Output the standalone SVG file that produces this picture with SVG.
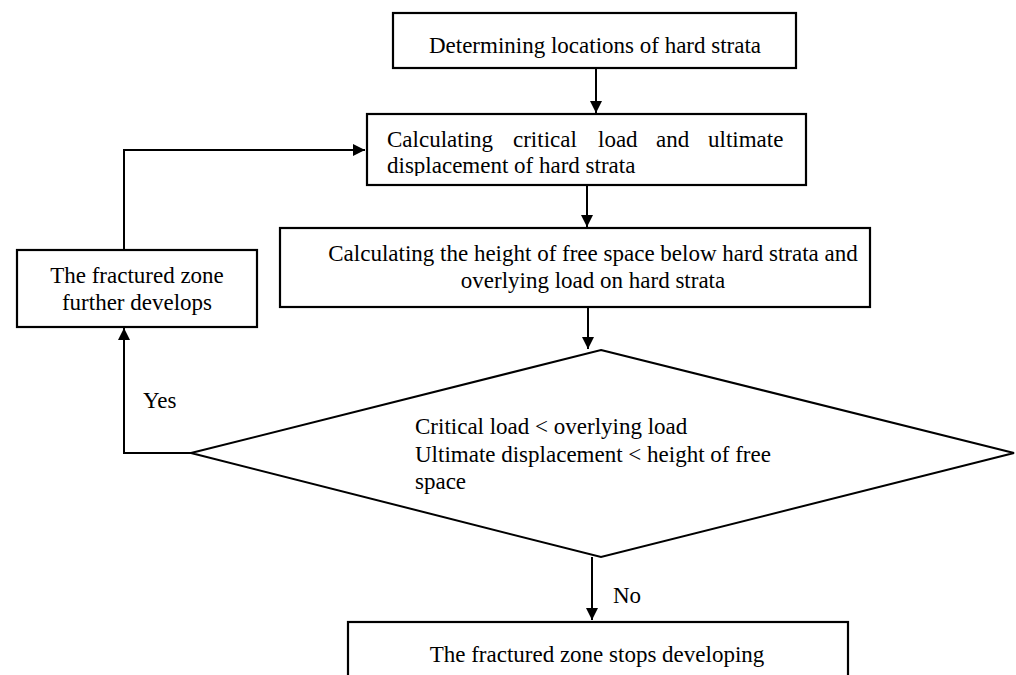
<svg xmlns="http://www.w3.org/2000/svg" width="1016" height="675" viewBox="0 0 1016 675">
<style>
.box{fill:#fff;stroke:#000;stroke-width:2.2}
.ln{fill:none;stroke:#000;stroke-width:2}
text{font-family:"Liberation Serif","Times New Roman",serif;font-size:23px;fill:#000}
.c{text-anchor:middle}
</style>
<defs>
<marker id="ah" viewBox="0 0 10 10" refX="10" refY="5" markerWidth="12" markerHeight="12" markerUnits="userSpaceOnUse" orient="auto">
<path d="M0,0 L10,5 L0,10 z" fill="#000"/>
</marker>
<clipPath id="clip2"><rect x="367" y="114" width="439" height="62"/></clipPath>
</defs>
<rect width="1016" height="675" fill="#fff"/>
<g id="connectors">
<line class="ln" x1="596" y1="68" x2="596" y2="113" marker-end="url(#ah)"/>
<line class="ln" x1="587" y1="185" x2="587" y2="227" marker-end="url(#ah)"/>
<line class="ln" x1="588" y1="307" x2="588" y2="349" marker-end="url(#ah)"/>
<line class="ln" x1="592" y1="557" x2="592" y2="620" marker-end="url(#ah)"/>
<polyline class="ln" points="191,453 124,453 124,328" marker-end="url(#ah)"/>
<polyline class="ln" points="124,250 124,150 365,150" marker-end="url(#ah)"/>
<text x="143" y="408">Yes</text>
<text x="613" y="603">No</text>
</g>
<g id="n1">
<rect class="box" x="393" y="13" width="403" height="55"/>
<text class="c" x="595" y="53">Determining locations of hard strata</text>
</g>
<g id="n2">
<rect class="box" x="367" y="114" width="439" height="71"/>
<g clip-path="url(#clip2)">
<text x="387" y="147">Calculating</text>
<text x="513" y="147">critical</text>
<text x="598" y="147">load</text>
<text x="656" y="147">and</text>
<text x="708" y="147">ultimate</text>
<text x="387" y="173">displacement of hard strata</text>
</g>
</g>
<g id="n3">
<rect class="box" x="280" y="228" width="590" height="79"/>
<text class="c" x="593" y="261">Calculating the height of free space below hard strata and</text>
<text class="c" x="593" y="288">overlying load on hard strata</text>
</g>
<g id="n4">
<rect class="box" x="17" y="250" width="240" height="77"/>
<text class="c" x="137" y="283">The fractured zone</text>
<text class="c" x="137" y="310">further develops</text>
</g>
<g id="n5">
<polygon class="ln" points="601,350 1014,453 601,557 191,453" fill="#fff"/>
<text x="415" y="434">Critical load &lt; overlying load</text>
<text x="415" y="462">Ultimate displacement &lt; height of free</text>
<text x="415" y="489">space</text>
</g>
<g id="n6">
<rect class="box" x="348" y="622" width="500" height="70"/>
<text class="c" x="597" y="662">The fractured zone stops developing</text>
</g>
</svg>
